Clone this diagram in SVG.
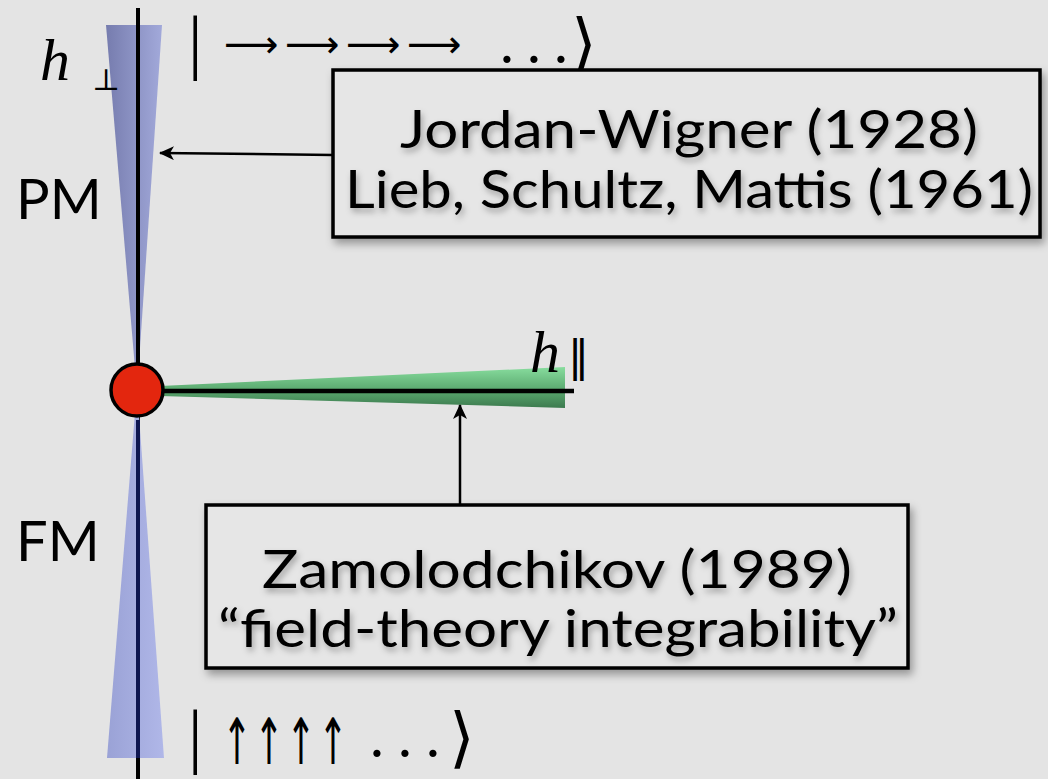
<svg xmlns="http://www.w3.org/2000/svg" width="1048" height="779" viewBox="0 0 1048 779">
<defs>
<linearGradient id="blueTop" x1="0" y1="0" x2="1" y2="0"><stop offset="0" stop-color="#767cae"/><stop offset="1" stop-color="#a2a9da"/></linearGradient>
<linearGradient id="blueBot" x1="0" y1="0" x2="1" y2="0"><stop offset="0" stop-color="#9aa2d6"/><stop offset="1" stop-color="#b0b7e8"/></linearGradient>
<linearGradient id="green" x1="0" y1="0" x2="0" y2="1"><stop offset="0" stop-color="#88dd9e"/><stop offset="0.5" stop-color="#5fae74"/><stop offset="1" stop-color="#3c7a4e"/></linearGradient>
<filter id="shadow" x="-10%" y="-10%" width="120%" height="130%"><feDropShadow dx="3" dy="5" stdDeviation="4" flood-color="#000" flood-opacity="0.35"/></filter>
<filter id="tshadow" x="-5%" y="-20%" width="110%" height="150%"><feDropShadow dx="2" dy="4" stdDeviation="3" flood-color="#000" flood-opacity="0.3"/></filter>
<marker id="arr" markerWidth="16" markerHeight="14" refX="14" refY="7" orient="auto" markerUnits="userSpaceOnUse"><path d="M0,0 L15,7 L0,14 L4,7 Z" fill="#000"/></marker>
<style>
.box{fill:#e6e6e6;stroke:#000;stroke-width:3.5;filter:url(#shadow)}
.lbl{font-family:Lato,"Open Sans",sans-serif;font-size:53px;fill:#000;text-anchor:middle;filter:url(#tshadow)}
.side{font-family:Lato,"Open Sans",sans-serif;font-size:56px;fill:#000}
.math{font-family:"Liberation Serif","DejaVu Serif",serif;fill:#000}
.bar{font-family:"Liberation Serif",serif;font-size:72px;fill:#000}
.ra{font-family:"DejaVu Sans",sans-serif;font-size:38px;fill:#000}
.ua{font-family:"DejaVu Sans",sans-serif;font-size:64px;fill:#000;text-anchor:middle}
.ang{font-family:"DejaVu Sans",sans-serif;font-size:66px;fill:#000}
.dot{font-family:"DejaVu Serif",serif;font-size:56px;fill:#000;text-anchor:middle}
.conn{stroke:#000;stroke-width:2.5;fill:none}
</style>
</defs>
<rect width="1048" height="779" fill="#e4e4e4"/>

<g id="axis">
<polygon points="106,25 162,25 137,392" fill="url(#blueTop)"/>
<line x1="138" y1="8" x2="138" y2="779" stroke="#000" stroke-width="4"/>
<polygon points="137,388 107,758 164,758" fill="url(#blueBot)"/>
<line x1="138" y1="420" x2="138" y2="758" stroke="#0e1650" stroke-width="4"/>
<polygon points="160,386 565,367 565,408 160,396" fill="url(#green)"/>
<line x1="150" y1="391" x2="574" y2="391" stroke="#000" stroke-width="4.5"/>
<circle cx="137" cy="390" r="26" fill="#e3260e" stroke="#000" stroke-width="3.5"/>
</g>

<g id="labels">
<text class="math" x="40" y="80" font-size="60" font-style="italic">h</text>
<text class="math" x="92" y="90" font-size="30">⊥</text>
<text class="math" x="530" y="372" font-size="60" font-style="italic">h</text>
<text x="568" y="371" font-family="DejaVu Sans,sans-serif" font-size="42" fill="#000">‖</text>
<text class="side" x="16" y="219">PM</text>
<text class="side" x="16" y="561">FM</text>

<text class="bar" x="188" y="66">|</text>
<text class="ra" x="224" y="57">⟶</text>
<text class="ra" x="285" y="57">⟶</text>
<text class="ra" x="346" y="57">⟶</text>
<text class="ra" x="407" y="57">⟶</text>
<text class="dot" x="507" y="62">.</text>
<text class="dot" x="534" y="62">.</text>
<text class="dot" x="561" y="62">.</text>
<text class="ang" x="571" y="66">⟩</text>

<text class="bar" x="188" y="760">|</text>
<text class="ua" transform="translate(237,764) scale(0.55,1)">↑</text>
<text class="ua" transform="translate(269,764) scale(0.55,1)">↑</text>
<text class="ua" transform="translate(301,764) scale(0.55,1)">↑</text>
<text class="ua" transform="translate(333,764) scale(0.55,1)">↑</text>
<text class="dot" x="377" y="756">.</text>
<text class="dot" x="405" y="756">.</text>
<text class="dot" x="433" y="756">.</text>
<text class="ang" x="449" y="760">⟩</text>
</g>

<g id="connectors">
<line class="conn" x1="333" y1="155" x2="160" y2="153" marker-end="url(#arr)"/>
<line class="conn" x1="460" y1="505" x2="460" y2="405" marker-end="url(#arr)"/>
</g>

<g id="box-jw">
<rect class="box" x="333" y="70" width="707" height="167"/>
<text class="lbl" x="689" y="148" textLength="578" lengthAdjust="spacingAndGlyphs">Jordan-Wigner (1928)</text>
<text class="lbl" x="689" y="208" textLength="688" lengthAdjust="spacingAndGlyphs">Lieb, Schultz, Mattis (1961)</text>
</g>

<g id="box-zam">
<rect class="box" x="206" y="505" width="702" height="163"/>
<text class="lbl" x="557" y="588" font-size="52" textLength="590" lengthAdjust="spacingAndGlyphs">Zamolodchikov (1989)</text>
<text class="lbl" x="558" y="647" font-size="52" textLength="680" lengthAdjust="spacingAndGlyphs">“field-theory integrability”</text>
</g>
</svg>
